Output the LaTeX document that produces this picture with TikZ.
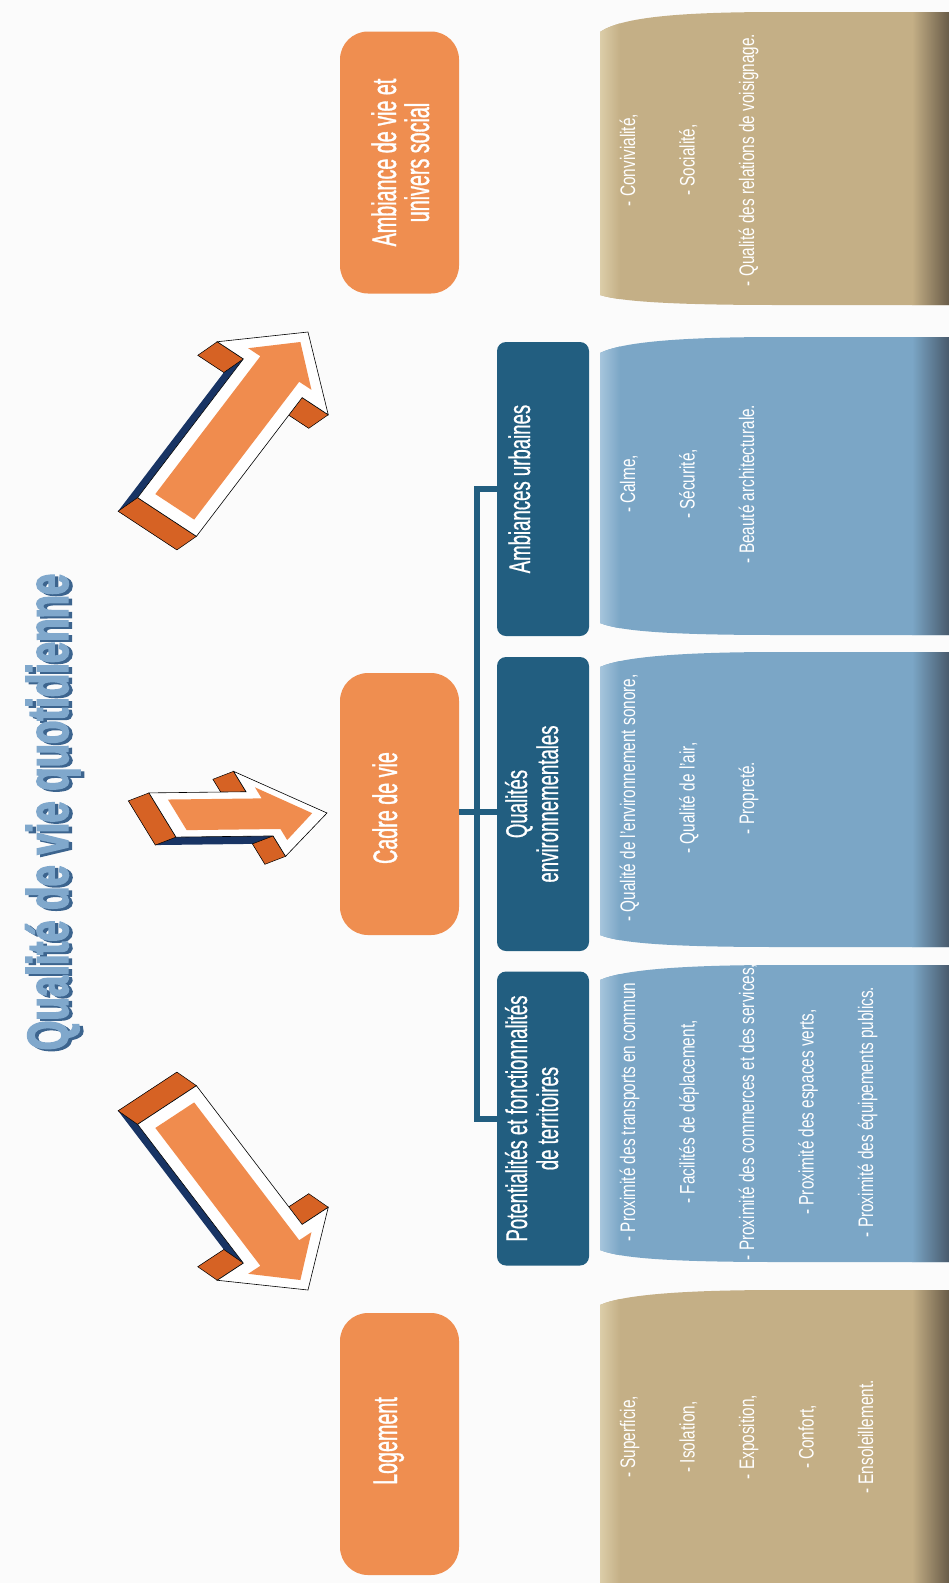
\documentclass[tikz,border=0pt]{standalone}
\usepackage{fontspec}
\setmainfont{Liberation Sans}
\newfontfamily\titlefont[FakeStretch=0.66,FakeBold=2.5]{Liberation Sans}
\newfontfamily\boxfont[FakeStretch=0.58,FakeBold=1]{Liberation Sans}
\newfontfamily\headfont[FakeStretch=0.62,FakeBold=0.6]{Liberation Sans}
\newfontfamily\itemfont[FakeStretch=0.73]{Liberation Sans}
\usetikzlibrary{calc}
\definecolor{bg}{RGB}{251,251,251}
\definecolor{orangebox}{RGB}{239,142,80}
\definecolor{arrowor}{RGB}{240,140,78}
\definecolor{arrowside}{RGB}{214,98,36}
\definecolor{navy}{RGB}{24,52,100}
\definecolor{headblue}{RGB}{34,94,128}
\definecolor{itemblue}{RGB}{123,166,198}
\definecolor{itemblueL}{RGB}{170,200,222}
\definecolor{itemblueD}{RGB}{72,90,108}
\definecolor{beige}{RGB}{196,175,134}
\definecolor{beigeL}{RGB}{222,208,172}
\definecolor{beigeD}{RGB}{105,92,72}
\definecolor{titleface}{RGB}{128,168,204}
\definecolor{titleshade}{RGB}{60,100,142}
% curved content panel: #1 main, #2 light, #3 dark, #4 yTL, #5 yTR, #6 yBL, #7 yBR
\newcommand{\curvedpanel}[7]{%
  \begin{scope}
    \path[clip] (600,#4) .. controls (622,#5+5) and (680,#5) .. (780,#5) -- (949,#5)
      -- (949,#7) -- (780,#7) .. controls (680,#7) and (622,#7-3) .. (600,#6) -- cycle;
    \fill[#1] (590,#5-5) rectangle (949,#7+5);
    \shade[left color=#2, right color=#1] (598,#5-5) rectangle (620,#7+5);
    \shade[left color=#1, right color=#3] (912,#5-5) rectangle (949,#7+5);
  \end{scope}}
% 3D block arrow in a local frame: #1 f, #2 s, #3 dx, #4 dy, #5 ti, #6 si, #7 fi, #8 hi, #9 pi
\newcommand{\blockarrow}[9]{%
  \begin{scope}[shift={(#3,#4)}]
    \fill[navy] (0,#2) -- (#1,#2) -- (#1,1) -- (1,0) -- (#1,-1) -- (#1,-#2) -- (0,-#2) -- cycle;
  \end{scope}
  \filldraw[arrowside, draw=black, line width=0.5pt] (0,#2) -- (0,-#2) -- ++(#3,#4) -- ++(0,2*#2) -- cycle;
  \filldraw[arrowside, draw=black, line width=0.5pt] (#1,#2) -- (#1,1) -- ++(#3,#4) -- ++(0,#2-1) -- cycle;
  \filldraw[arrowside, draw=black, line width=0.5pt] (#1,-#2) -- (#1,-1) -- ++(#3,#4) -- ++(0,1-#2) -- cycle;
  \filldraw[white, draw=black, line width=0.6pt] (0,#2) -- (#1,#2) -- (#1,1) -- (1,0) -- (#1,-1) -- (#1,-#2) -- (0,-#2) -- cycle;
  \fill[arrowor] (#5,#6) -- (#7,#6) -- (#7,#8) -- (#9,0) -- (#7,-#8) -- (#7,-#6) -- (#5,-#6) -- cycle;
}
\begin{document}
\begin{tikzpicture}[x=1pt,y=-1pt,
  obox/.style={fill=orangebox, rounded corners=28pt, minimum width=119pt, minimum height=262pt, inner sep=0pt},
  hbox/.style={fill=headblue, rounded corners=9pt, minimum width=92pt, minimum height=294pt, inner sep=0pt},
  txt/.style={rotate=90, anchor=base, inner sep=0pt, text=white},
  otxt/.style={txt, font={\boxfont\fontsize{34}{36}\selectfont}},
  htxt/.style={txt, font={\headfont\fontsize{30}{32}\selectfont}},
  itxt/.style={txt, font={\itemfont\fontsize{21}{24}\selectfont}},
  tree/.style={draw=headblue, line width=6pt, line join=miter, line cap=rect}]
\useasboundingbox (0,0) rectangle (949,1583);
\clip (0,0) rectangle (949,1583);
\fill[bg] (0,0) rectangle (949,1583);

% title
\node[txt, text=titleshade, font={\titlefont\bfseries\fontsize{58}{60}\selectfont}] (titleshadow) at (71.5,814) {Qualité de vie quotidienne};
\node[txt, text=titleface, font={\titlefont\bfseries\fontsize{58}{60}\selectfont}] (title) at (68,812) {Qualité de vie quotidienne};

% arrows
\begin{scope}[shift={(167,517)}, x={(141pt,185pt)}, y={(-55.5pt,36.5pt)}]
  \blockarrow{0.75}{0.53}{-0.095}{0.11}{0.055}{0.35}{0.80}{0.57}{0.946}
\end{scope}
\begin{scope}[shift={(162.5,815)}, x={(164.5pt,2pt)}, y={(-26pt,42.5pt)}]
  \blockarrow{0.59}{0.52}{-0.154}{-0.18}{0.09}{0.36}{0.66}{0.62}{0.91}
\end{scope}
\begin{scope}[shift={(167,1105)}, x={(141pt,-185pt)}, y={(-55.5pt,-36.5pt)}]
  \blockarrow{0.75}{0.53}{-0.095}{0.11}{0.055}{0.35}{0.80}{0.57}{0.946}
\end{scope}

% orange boxes
\node[obox] (amb) at (399.5,162.5) {};
\node[obox] (cadre) at (399.5,804) {};
\node[obox] (loge) at (399.5,1444) {};
\node[otxt] (ambA) at (396,162.5) {Ambiance de vie et};
\node[otxt] (ambB) at (429,162.5) {univers social};
\node[otxt] (cadreT) at (397,808) {Cadre de vie};
\node[otxt] (logeT) at (397,1441) {Logement};

% header boxes
\node[hbox] (hUrb) at (543,489) {};
\node[hbox] (hEnv) at (543,804) {};
\node[hbox] (hPot) at (543,1118.5) {};
\node[htxt] (hUrbT) at (530,489) {Ambiances urbaines};
\node[htxt] (hEnvA) at (527,804) {Qualités};
\node[htxt] (hEnvB) at (558,804) {environnementales};
\node[htxt] (hPotA) at (527,1118.5) {Potentialités et fonctionnalités};
\node[htxt] (hPotB) at (558,1118.5) {de territoires};

% tree connectors
\coordinate (bus) at (477,0);
\draw[tree] (hUrb.west) -- (hUrb.west -| bus) -- (hPot.west -| bus) -- (hPot.west);
\draw[tree, line cap=butt] ($(cadre.east)+(0,8)$) -- ($(hEnv.west)+(0,8)$);

% content panels
\curvedpanel{beige}{beigeL}{beigeD}{32}{12}{295}{305}
\curvedpanel{itemblue}{itemblueL}{itemblueD}{353}{337}{623}{635}
\curvedpanel{itemblue}{itemblueL}{itemblueD}{667}{652}{935}{947}
\curvedpanel{itemblue}{itemblueL}{itemblueD}{980}{965}{1250}{1262}
\curvedpanel{beige}{beigeL}{beigeD}{1305}{1290}{1620}{1620}

\node[itxt] (a1) at (635,160) {- Convivialité,};
\node[itxt] (a2) at (694.5,160) {- Socialité,};
\node[itxt] (a3) at (754,160) {- Qualité des relations de voisignage.};

\node[itxt] (u1) at (635,484) {- Calme,};
\node[itxt] (u2) at (694.5,484) {- Sécurité,};
\node[itxt] (u3) at (754,484) {- Beauté architecturale.};

\node[itxt] (e1) at (635,798) {- Qualité de l’environnement sonore,};
\node[itxt] (e2) at (694.5,798) {- Qualité de l’air,};
\node[itxt] (e3) at (754,798) {- Propreté.};

\node[itxt] (p1) at (635,1112) {- Proximité des transports en commun};
\node[itxt] (p2) at (694.5,1112) {- Facilités de déplacement,};
\node[itxt] (p3) at (754,1112) {- Proximité des commerces et des services,};
\node[itxt] (p4) at (813.5,1112) {- Proximité des espaces verts,};
\node[itxt] (p5) at (873,1112) {- Proximité des équipements publics.};

\node[itxt] (l1) at (635,1437) {- Superficie,};
\node[itxt] (l2) at (694.5,1437) {- Isolation,};
\node[itxt] (l3) at (754,1437) {- Exposition,};
\node[itxt] (l4) at (813.5,1437) {- Confort,};
\node[itxt] (l5) at (873,1437) {- Ensoleillement.};
\end{tikzpicture}
\end{document}
